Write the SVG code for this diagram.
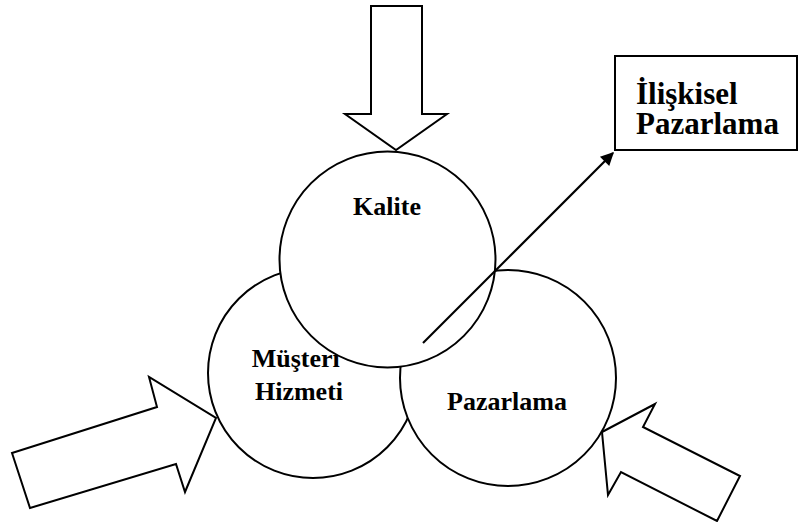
<svg xmlns="http://www.w3.org/2000/svg" width="799" height="522" viewBox="0 0 799 522">
  <style>
    .shape { fill: #ffffff; stroke: #000000; stroke-width: 2; stroke-linejoin: miter; }
    .label { font-family: "Liberation Serif", "Times New Roman", serif; font-weight: bold; fill: #000000; }
    .conn { stroke: #000000; stroke-width: 2.2; fill: none; }
  </style>
  <defs>
    <marker id="arrowhead" viewBox="0 0 10 10" refX="9" refY="5" markerWidth="7" markerHeight="6" markerUnits="strokeWidth" orient="auto">
      <path d="M0,0 L10,5 L0,10 Z" fill="#000000"/>
    </marker>
  </defs>

  <!-- block arrows pushing toward the circles -->
  <g id="arrow-top">
    <polygon class="shape" points="371,6 422,6 422,114 447,114 396,150 345,114 371,114"/>
  </g>
  <g id="arrow-left">
    <polygon class="shape" points="12,453 157,407 149,377 216,418 185,492 176,464 30,508"/>
  </g>
  <g id="arrow-right">
    <polygon class="shape" points="602,432 655,404 643,427 740,476 717,521 621,472 608,495"/>
  </g>

  <!-- overlapping circles -->
  <g id="musteri-hizmeti">
    <circle class="shape" cx="313" cy="373" r="105"/>
    <text class="label" font-size="26" text-anchor="middle">
      <tspan x="299" y="367">Müşteri</tspan>
      <tspan x="299" y="400">Hizmeti</tspan>
    </text>
  </g>
  <g id="pazarlama">
    <circle class="shape" cx="508" cy="378" r="108"/>
    <text class="label" x="507" y="410" font-size="26" text-anchor="middle">Pazarlama</text>
  </g>
  <g id="kalite">
    <circle class="shape" cx="387.5" cy="259.5" r="108"/>
    <text class="label" x="387" y="215" font-size="26" text-anchor="middle">Kalite</text>
  </g>

  <!-- result box -->
  <g id="iliskisel-pazarlama">
    <rect class="shape" x="615" y="56" width="182" height="94"/>
    <text class="label" font-size="31">
      <tspan x="636" y="104">İlişkisel</tspan>
      <tspan x="636" y="134">Pazarlama</tspan>
    </text>
  </g>

  <!-- connector -->
  <g id="connectors">
    <line class="conn" x1="423" y1="343" x2="613" y2="153" marker-end="url(#arrowhead)"/>
  </g>
</svg>
